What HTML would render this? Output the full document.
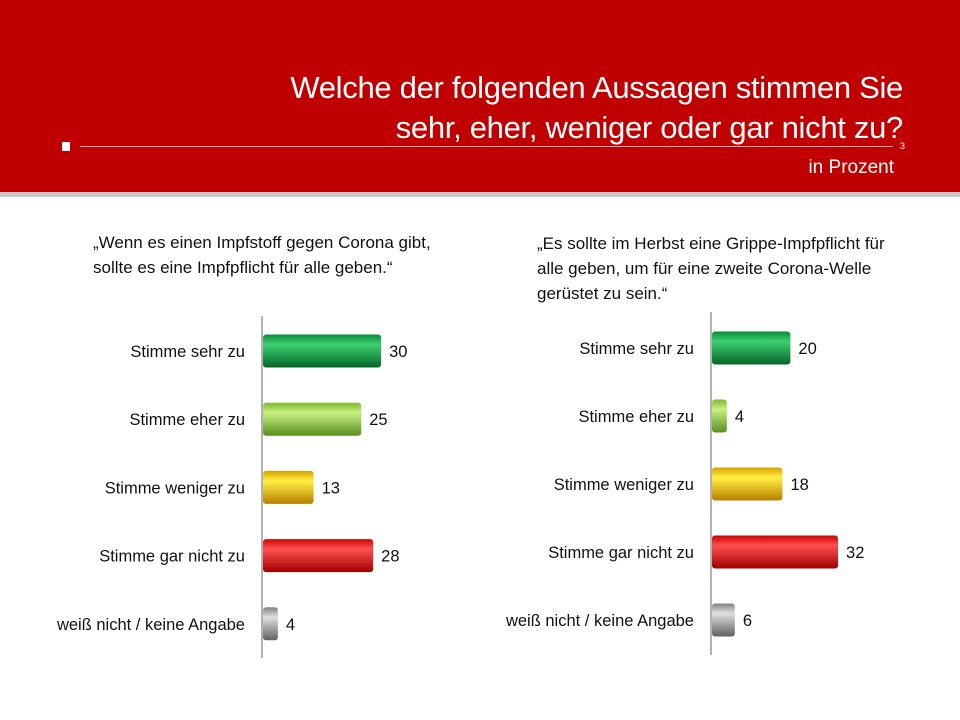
<!DOCTYPE html>
<html><head><meta charset="utf-8"><style>
body{margin:0;width:960px;height:720px;overflow:hidden;background:#fff;font-family:"Liberation Sans",sans-serif;position:relative}
.hdr{position:absolute;left:0;top:0;width:960px;height:192px;background:#c00000}
.strip{position:absolute;left:0;top:192px;width:960px;height:5px;background:#c8c8c8}
.t{position:absolute;right:57px;color:#fff;font-size:31px;white-space:nowrap;letter-spacing:-0.3px}
.q{position:absolute;font-size:17px;line-height:25px;color:#111;white-space:nowrap}
</style></head><body>
<div class="hdr"></div>
<div class="strip"></div>
<div class="t" style="top:70px">Welche der folgenden Aussagen stimmen Sie</div>
<div class="t" style="top:110px">sehr, eher, weniger oder gar nicht zu?</div>
<div style="position:absolute;left:62px;top:142px;width:8px;height:9px;background:#fff"></div>
<div style="position:absolute;left:80px;top:146px;width:813px;height:1px;background:#e8b0b0"></div>
<div style="position:absolute;left:900px;top:141px;color:#fff;font-size:9px">3</div>
<div style="position:absolute;right:66px;top:157px;color:#fff;font-size:19px">in Prozent</div>
<div class="q" style="left:93px;top:230px">„Wenn es einen Impfstoff gegen Corona gibt,<br>sollte es eine Impfpflicht für alle geben.“</div>
<div class="q" style="left:537px;top:231px">„Es sollte im Herbst eine Grippe-Impfpflicht für<br>alle geben, um für eine zweite Corona-Welle<br>gerüstet zu sein.“</div>
<svg id="c" width="960" height="720" style="position:absolute;left:0;top:0">
<defs>
<linearGradient id="g0" x1="0" y1="0" x2="0" y2="1"><stop offset="0" stop-color="#0a8a3a"/><stop offset=".3" stop-color="#3cd070"/><stop offset="1" stop-color="#06652a"/></linearGradient>
<linearGradient id="g1" x1="0" y1="0" x2="0" y2="1"><stop offset="0" stop-color="#7aba30"/><stop offset=".3" stop-color="#c8f080"/><stop offset="1" stop-color="#5a9020"/></linearGradient>
<linearGradient id="g2" x1="0" y1="0" x2="0" y2="1"><stop offset="0" stop-color="#d8a000"/><stop offset=".3" stop-color="#fff040"/><stop offset="1" stop-color="#b88000"/></linearGradient>
<linearGradient id="g3" x1="0" y1="0" x2="0" y2="1"><stop offset="0" stop-color="#d00000"/><stop offset=".3" stop-color="#ff5050"/><stop offset="1" stop-color="#a00000"/></linearGradient>
<linearGradient id="g4" x1="0" y1="0" x2="0" y2="1"><stop offset="0" stop-color="#808080"/><stop offset=".3" stop-color="#e0e0e0"/><stop offset="1" stop-color="#606060"/></linearGradient>
</defs>
</svg>
<script>
const categories=["Stimme sehr zu","Stimme eher zu","Stimme weniger zu","Stimme gar nicht zu","weiß nicht / keine Angabe"];
const valuesLeft=[30,25,13,28,4];
const valuesRight=[20,4,18,32,6];
const svg=document.getElementById('c');
const NS='http://www.w3.org/2000/svg';
function mk(t,a){const e=document.createElementNS(NS,t);for(const k in a)e.setAttribute(k,a[k]);svg.appendChild(e);return e;}
function chart(vals,ax,y0,y1,c0,step,side){
  const x=v=>ax+v*3.97;
  const y=i=>c0+i*step;
  const a=mk('line',{x1:ax,y1:y0,x2:ax,y2:y1,stroke:'#999','stroke-width':1.5});
  
  
  vals.forEach((v,i)=>{
    const r=mk('rect',{x:ax+1,y:y(i)-16.5,width:x(v)-ax-1,height:33,rx:3,fill:'url(#g'+i+')'});
    
    
    const l=mk('text',{x:ax-17,y:y(i)+6,'text-anchor':'end','font-size':16.5,fill:'#111'});
    l.textContent=categories[i];
    
    
    const t=mk('text',{x:x(v)+8,y:y(i)+6,'font-size':16.5,fill:'#111'});
    t.textContent=v;
    
    
  });
}
chart(valuesLeft,262,316,658,351,68.2,'left');
chart(valuesRight,711,312,655,348,68,'right');
</script>
</body></html>
